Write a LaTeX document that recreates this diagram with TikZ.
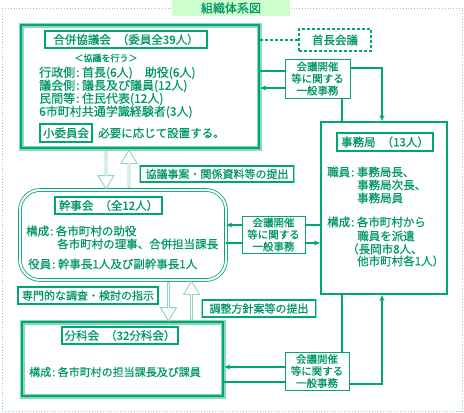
\documentclass[tikz,border=0pt]{standalone}
\usepackage{fontspec}
\newfontfamily\jp[FakeBold=0.6]{Noto Sans CJK JP}
\usetikzlibrary{arrows.meta,shapes.arrows}

\definecolor{orgline}{RGB}{0,166,118}
\definecolor{orgtext}{RGB}{0,150,104}
\definecolor{orglight}{RGB}{140,216,190}
\definecolor{orgfill}{RGB}{204,255,204}

\newcommand\jcolon{\hspace{1pt}:\hspace{2.5pt}}

\tikzset{
  every node/.style={font=\jp\fontsize{11.5}{13}\selectfont, text=orgtext, inner sep=0pt},
  frame/.style={draw=orglight, dotted, line width=.8pt},
  headbox/.style={fill=orgfill, font=\jp\fontsize{12}{14}\selectfont},
  mainbox/.style={draw=orgline, line width=2.6pt, preaction={draw=orglight, line width=5pt}},
  roundbox/.style={draw=orgline, double=white, double distance=2pt, line width=.8pt, rounded corners=20pt},
  officebox/.style={draw=orgline, line width=2pt},
  titlebox/.style={draw=orgline, fill=white, line width=1.2pt, preaction={draw=orglight, line width=2.6pt}},
  jimubox/.style={draw=orgline, fill=white, line width=1pt, align=center,
    font=\jp\fontsize{10.5}{12}\selectfont},
  dashbox/.style={draw=orgline, dash pattern=on 3pt off 2pt, line width=1.2pt},
  link/.style={draw=orgline, line width=1.2pt},
  linkarrow/.style={link, -{Stealth[length=6pt,width=5pt]}},
  dashlink/.style={link, dash pattern=on 3pt off 2pt},
  blk/.style={single arrow, draw=orglight, fill=white, line width=.9pt,
    minimum width=16pt, single arrow head extend=3pt, single arrow tip angle=62,
    minimum height=37pt}
}

\begin{document}
\begin{tikzpicture}[x=1pt,y=-1pt]
\useasboundingbox (0,0) rectangle (464,413);
\draw[frame] (2,8) rectangle (462,411);
\node[headbox, minimum width=118pt, minimum height=16pt] (head) at (231,8) {組織体系図};

% 合併協議会
\node[mainbox, minimum width=238pt, minimum height=123pt] (gappei) at (140,86.5) {};
\node[titlebox, minimum width=162pt, minimum height=17pt] (gtitle) at (126,39.5)
  {合併協議会\hspace{6pt}（委員全39人）};
\node[font=\jp\fontsize{9}{11}\selectfont] (gsub) at (106,58) {＜協議を行う＞};
\node[align=left, anchor=north west, font=\jp\fontsize{12}{13}\selectfont] (gtext) at (39,66.5)
  {行政側\jcolon 首長(6人)　助役(6人)\\議会側\jcolon 議長及び議員(12人)\\民間等\jcolon 住民代表(12人)\\6市町村共通学識経験者(3人)};
\node[titlebox, minimum width=52pt, minimum height=18pt] (small) at (66,133) {小委員会};
\node[anchor=west] (smalltext) at (98,133) {必要に応じて設置する。};

% 首長会議
\node[dashbox, minimum width=72pt, minimum height=22pt] (shocho) at (335,40) {首長会議};

% 事務局
\node[officebox, minimum width=126pt, minimum height=172pt] (jimukyoku) at (384,208) {};
\node[titlebox, minimum width=96pt, minimum height=18pt] (jtitle) at (385,142) {事務局\hspace{6pt}（13人）};
\node[anchor=west] (j1) at (327,172) {職員\jcolon 事務局長、};
\node[anchor=west] (j2) at (357,185) {事務局次長、};
\node[anchor=west] (j3) at (357,198) {事務局員};
\node[anchor=west] (j4) at (327,222) {構成\jcolon 各市町村から};
\node[anchor=west] (j5) at (357,236) {職員を派遣};
\node[anchor=west] (j6) at (347,249) {（長岡市8人、};
\node[anchor=west] (j7) at (357,261) {他市町村各1人）};

% 幹事会
\node[roundbox, minimum width=206pt, minimum height=90pt] (kanji) at (123,235) {};
\node[titlebox, minimum width=107pt, minimum height=17pt] (ktitle) at (108.5,205.5) {幹事会\hspace{6pt}（全12人）};
\node[anchor=west] (k1) at (26,231) {構成\jcolon 各市町村の助役};
\node[anchor=west] (k2) at (57,244) {各市町村の理事、合併担当課長};
\node[anchor=west] (k3) at (28,264) {役員\jcolon 幹事長1人及び副幹事長1人};

% 分科会
\node[mainbox, minimum width=201pt, minimum height=74pt] (bunka) at (122.5,359) {};
\node[titlebox, minimum width=116pt, minimum height=17pt] (btitle) at (120,335.5) {分科会\hspace{6pt}（32分科会）};
\node[anchor=west, font=\jp\fontsize{11}{13}\selectfont] (b1) at (29,372) {構成\jcolon 各市町村の担当課長及び課員};

% 会議開催等に関する一般事務
\node[jimubox, minimum width=65pt, minimum height=39pt] (jimu1) at (317.5,78.5) {会議開催\\等に関する\\一般事務};
\node[jimubox, minimum width=63pt, minimum height=37pt] (jimu2) at (273.5,234.5) {会議開催\\等に関する\\一般事務};
\node[jimubox, minimum width=64pt, minimum height=38pt] (jimu3) at (317,371) {会議開催\\等に関する\\一般事務};

% block arrows and labels
\node[blk, rotate=-90] (down1) at (106,169.5) {};
\node[blk, rotate=90] (up1) at (129,169.5) {};
\node[blk, rotate=-90, minimum height=38pt] (down2) at (168.5,301) {};
\node[blk, rotate=90, minimum height=38pt] (up2) at (191.5,301) {};
\node[titlebox, minimum width=153pt, minimum height=16pt, font=\jp\fontsize{11}{13}\selectfont] (kyogi) at (217,174) {協議事案・関係資料等の提出};
\node[titlebox, minimum width=140pt, minimum height=17pt, font=\jp\fontsize{11}{13}\selectfont] (senmon) at (88,295.5) {専門的な調査・検討の指示};
\node[titlebox, minimum width=113pt, minimum height=17pt, font=\jp\fontsize{11}{13}\selectfont] (chosei) at (259,308.5) {調整方針案等の提出};

% connectors
\draw[dashlink] (shocho.west) -- (shocho.west -| gappei.east);
\draw[link] ([yshift=7.5pt]jimu1.west) -- ([yshift=7.5pt]jimu1.west -| gappei.east);
\draw[linkarrow] ([yshift=-9.5pt]jimu1.west) -- ([yshift=-9.5pt]jimu1.west -| gappei.east);
\draw[linkarrow] ([yshift=10.5pt]jimu1.east) -| ([xshift=-2pt]jimukyoku.north);
\draw[link] ([xshift=24.5pt]jimu1.south) -- ([xshift=24.5pt]jimu1.south |- jimukyoku.north);

\draw[linkarrow] ([yshift=9.5pt]jimu2.west) -- ([yshift=9.5pt]jimu2.west -| kanji.east);
\draw[link] ([yshift=-8.5pt]jimu2.west) -- ([yshift=-8.5pt]jimu2.west -| kanji.east);
\draw[link] ([yshift=9.5pt]jimu2.east) -- ([yshift=9.5pt]jimu2.east -| jimukyoku.west);
\draw[linkarrow] ([yshift=-8.5pt]jimu2.east) -- ([yshift=-8.5pt]jimu2.east -| jimukyoku.west);

\draw[linkarrow] ([yshift=4pt]jimu3.west) -- ([yshift=4pt]jimu3.west -| bunka.east);
\draw[link] ([yshift=-11pt]jimu3.west) -- ([yshift=-11pt]jimu3.west -| bunka.east);
\draw[link] ([xshift=25pt]jimu3.north) -- ([xshift=25pt]jimu3.north |- jimukyoku.south);
\draw[linkarrow] ([yshift=-13pt]jimu3.east) -| ([xshift=-2pt]jimukyoku.south);
\end{tikzpicture}
\end{document}
